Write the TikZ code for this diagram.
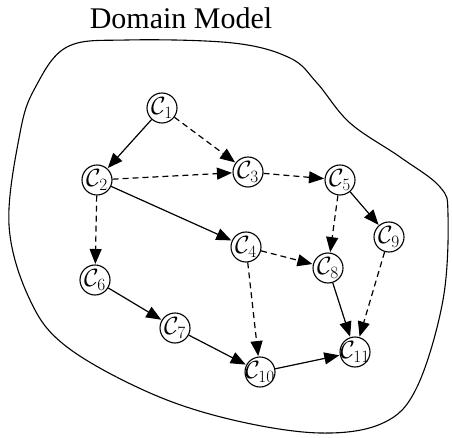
\documentclass[tikz,border=0pt]{standalone}
\usepackage{amsmath}
\usepackage{fontspec}
\setmainfont{Liberation Serif}
\usetikzlibrary{arrows.meta}

\newcommand{\cname}[1]{\makebox[0pt]{$\mathcal{C}_{#1}$}}

\begin{document}
\begin{tikzpicture}[x=1pt,y=-1pt,
	concept/.style={draw, circle, line width=1.1pt, minimum size=30pt, inner sep=0pt, font=\fontsize{23}{23}\selectfont},
	need/.style={-{Triangle[length=15pt,width=12pt]}, line width=1.2pt, shorten >=0.5pt},
	may/.style={need, dash pattern=on 6pt off 4pt}]
	\useasboundingbox (0,0) rectangle (452,438);
	\node[font=\fontsize{30}{30}\selectfont] (title) at (181,18) {Domain Model};
	\draw[line width=1.1pt] plot[smooth cycle, tension=0.6] coordinates {
		(67,47) (127,40) (233,43) (290,58) (317,83) (350,123) (400,157) (440,187)
		(448,215) (443,300) (417,387) (383,423) (320,433) (233,420) (150,393)
		(67,347) (30,300) (9,225) (20,133) (35,88)};
	\node[concept] (c1) at (162,108) {\cname{1}};
	\node[concept] (c2) at (97,180) {\cname{2}};
	\node[concept] (c3) at (248,172) {\cname{3}};
	\node[concept] (c5) at (340,180) {\cname{5}};
	\node[concept] (c4) at (246,247) {\cname{4}};
	\node[concept] (c9) at (389,237) {\cname{9}};
	\node[concept] (c8) at (328,268) {\cname{8}};
	\node[concept] (c6) at (95,280) {\cname{6}};
	\node[concept] (c7) at (175,328) {\cname{7}};
	\node[concept] (c10) at (260,372) {\cname{10}};
	\node[concept] (c11) at (355,352) {\cname{11}};
	\draw[need] (c1) -- (c2);
	\draw[need] (c2) -- (c4);
	\draw[need] (c5) -- (c9);
	\draw[need] (c6) -- (c7);
	\draw[need] (c7) -- (c10);
	\draw[need] (c10) -- (c11);
	\draw[need] (c8) -- (c11);
	\draw[may] (c1) -- (c3);
	\draw[may] (c2) -- (c3);
	\draw[may] (c3) -- (c5);
	\draw[may] (c2) -- (c6);
	\draw[may] (c5) -- (c8);
	\draw[may] (c4) -- (c8);
	\draw[may] (c4) -- (c10);
	\draw[may] (c9) -- (c11);
\end{tikzpicture}
\end{document}
